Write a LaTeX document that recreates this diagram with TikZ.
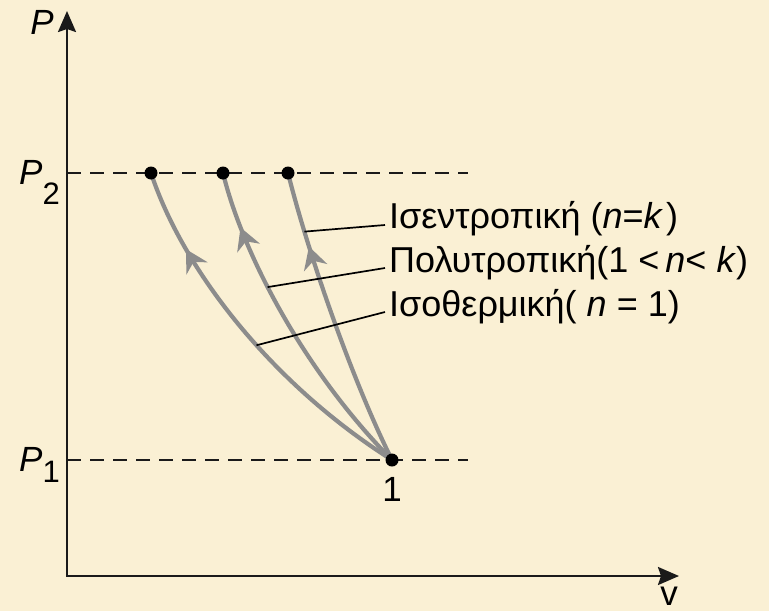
\documentclass[tikz,border=0pt]{standalone}
\usepackage{fontspec}
\setmainfont{Liberation Sans}
\usetikzlibrary{arrows.meta,calc,decorations.markings}
\definecolor{Parchment}{HTML}{FAF0D4}
\definecolor{CurveGray}{HTML}{8C8C8C}
\definecolor{AxisBlack}{HTML}{1A1A1A}

\begin{document}
\begin{tikzpicture}[x=1pt,y=-1pt,
    every node/.style={font=\fontsize{35}{40}\selectfont,inner sep=0pt},
    axisline/.style={line width=2.4pt,AxisBlack,{Stealth[length=21pt,width=18pt,inset=3pt]}-{Stealth[length=21pt,width=18pt,inset=3pt]}},
    pressline/.style={line width=2pt,AxisBlack,dash pattern=on 14pt off 9pt},
    statedot/.style={circle,fill=black,minimum size=13pt},
    process/.style={line width=4.2pt,CurveGray,postaction={decorate},
      decoration={markings,mark=at position #1 with {\arrow{Stealth[length=22pt,width=24pt,inset=7pt]}}}},
    leader/.style={line width=1.7pt,black}]
  \fill[Parchment] (0,0) rectangle (769,611);
  \useasboundingbox (0,0) rectangle (769,611);

  % axes
  \coordinate (o) at (67,576);
  \coordinate (ptop) at (67,11);
  \coordinate (vend) at (679,576);
  \draw[axisline] (ptop) -- (o) -- (vend);
  \node[anchor=base] (plab) at (42,34) {\textit{P}};
  \node[anchor=base] (vlab) at (669,605) {v};

  % pressure levels
  \coordinate (p2a) at (67,173);
  \coordinate (p2b) at (468,173);
  \coordinate (p1a) at (67,460);
  \coordinate (p1b) at (468,460);
  \draw[pressline] (p2a) -- (p2b);
  \draw[pressline] (p1a) -- (p1b);
  \node[anchor=base west] (p2lab) at (19,184) {\textit{P}\raisebox{-20pt}{\fontsize{31}{36}\selectfont 2}};
  \node[anchor=base west] (p1lab) at (19,471) {\textit{P}\raisebox{-11pt}{\fontsize{31}{36}\selectfont 1}};

  % processes
  \coordinate (s1) at (392,460);
  \coordinate (sT) at (151,173);
  \coordinate (sN) at (223,173);
  \coordinate (sK) at (288,173);
  \draw[process=0.78] (s1) .. controls (272,384) and (183,270) .. coordinate[pos=0.43] (cT) (sT);
  \draw[process=0.83] (s1) .. controls (305,372) and (243,255) .. coordinate[pos=0.59] (cN) (sN);
  \draw[process=0.75] (s1) .. controls (352,380) and (308,253) .. coordinate[pos=0.78] (cK) (sK);

  \node[statedot] (d1) at (s1) {};
  \node[statedot] (dT) at (sT) {};
  \node[statedot] (dN) at (sN) {};
  \node[statedot] (dK) at (sK) {};
  \node[anchor=base] (l1) at (392,501) {1};

  % labels
  \node[anchor=base west,font=\fontsize{36}{40}\selectfont] (lK) at (389,228) {Ισεντροπική (\textit{n}=\textit{k}\kern3pt)};
  \node[anchor=base west,font=\fontsize{36}{40}\selectfont] (lN) at (389,272) {Πολυτροπική(1 <\,\textit{n}< \textit{k})};
  \node[anchor=base west,font=\fontsize{36}{40}\selectfont] (lT) at (389,316) {Ισοθερμική( \textit{n} = 1)};
  \draw[leader] (cK) -- ($(lK.base west)+(-4,-3)$);
  \draw[leader] (cN) -- ($(lN.base west)+(-4,-4)$);
  \draw[leader] (cT) -- ($(lT.base west)+(-4,-4)$);
\end{tikzpicture}
\end{document}
